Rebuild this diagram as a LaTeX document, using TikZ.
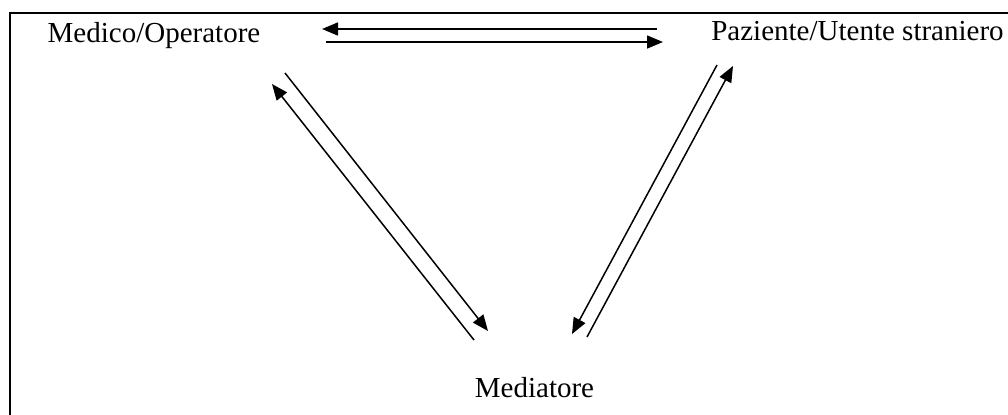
\documentclass[tikz,border=0pt]{standalone}
\usepackage{fontspec}
\setmainfont{Liberation Serif}
\usepackage{tikz}
\usetikzlibrary{arrows.meta, positioning}

\begin{document}
\begin{tikzpicture}[x=0.5pt, y=-0.5pt,
    role/.style={inner sep=0pt, anchor=base, font=\fontsize{14.5pt}{17pt}\selectfont},
    flow/.style={line width=0.75pt, -{Triangle[length=8pt, width=6.5pt]}}]
      \useasboundingbox (0,0) rectangle (1008,414);
      \draw[line width=1.1pt] (1020,13) -- (10,13) -- (10,430);
      % the three parties
      \node[role] (medico) at (154,42) {Medico/Operatore};
      \node[role] (paziente) at (857.5,40) {Paziente/Utente straniero};
      \node[role] (mediatore) at (534.5,397) {Mediatore};
      % ends of the paired arrows
      \coordinate (mp1) at (657,29);  \coordinate (pm1) at (322,29);
      \coordinate (mp2) at (326,42);  \coordinate (pm2) at (663,42);
      \coordinate (md1) at (474,340); \coordinate (dm1) at (272,84);
      \coordinate (md2) at (285,73);  \coordinate (dm2) at (488,331);
      \coordinate (pd1) at (717,65);  \coordinate (dp1) at (572,334);
      \coordinate (pd2) at (587,337); \coordinate (dp2) at (733,66);
      \draw[flow] (mp1) -- (pm1);
      \draw[flow] (mp2) -- (pm2);
      \draw[flow] (md1) -- (dm1);
      \draw[flow] (md2) -- (dm2);
      \draw[flow] (pd1) -- (dp1);
      \draw[flow] (pd2) -- (dp2);
    \end{tikzpicture}
\end{document}
